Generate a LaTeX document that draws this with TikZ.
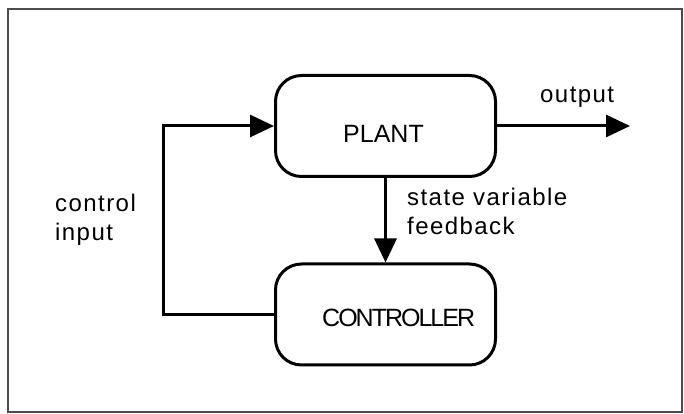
\documentclass[tikz,border=0pt]{standalone}
\usepackage{fontspec}
\setmainfont{Liberation Sans}
\newfontfamily\rotulo[LetterSpace=6]{Liberation Sans}
\newfontfamily\apertado[LetterSpace=-8]{Liberation Sans}
\usetikzlibrary{arrows.meta}
\tikzset{
  bloco/.style={draw, line width=3pt, rounded corners=26pt, minimum width=220pt, minimum height=101pt, inner sep=0pt},
  ligacao/.style={line width=3pt},
  seta/.style={ligacao, -{Triangle[length=24pt,width=22pt]}},
  texto/.style={font=\rotulo\fontsize{24}{29}\selectfont, align=left, inner sep=0pt, anchor=base west},
  nome/.style={font=\fontsize{25}{30}\selectfont, inner sep=0pt, anchor=base west}
}
\begin{document}
\begin{tikzpicture}[x=1pt,y=1pt] %Início do desenho, unidade em pontos
	\useasboundingbox (0,0) rectangle (684,414);
		%Moldura
	\draw[line width=2pt, black!70] (8,2) rectangle (682,405);
		%Blocos
	\node[bloco] (planta) at (385.5,288) {};
	\node[bloco] (controlador) at (385.5,99.5) {};
	\node[nome] (txtplanta) at (343,271) {PLANT};
	\node[nome, font=\apertado\fontsize{25}{30}\selectfont] (txtcontrolador) at (322,87) {CONTROLLER};
		%Pontos auxiliares
	\coordinate (saida) at (630,288);
	\coordinate (canto) at (163,99.5);
		%Ligações
	\draw[seta] (planta.east) -- (saida);
	\draw[seta] (planta.south) -- (controlador.north);
	\draw[seta] (controlador.west) -- (canto) |- (planta.west);
		%Textos (âncora na linha de base da última linha)
	\node[texto] (txtsaida) at (540,311) {output};
	\node[texto] (txtrealim) at (407,179) {state variable\\feedback};
	\node[texto] (txtentrada) at (55,173) {control\\input};
\end{tikzpicture}
\end{document}
